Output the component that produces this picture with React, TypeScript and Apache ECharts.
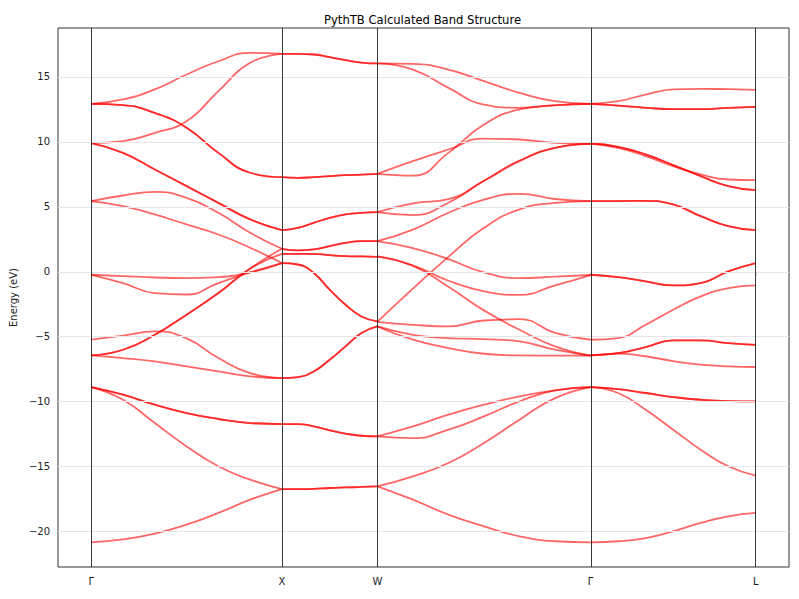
import React, { useEffect, useRef } from 'react';
import * as echarts from 'echarts';

// k-path positions of the high-symmetry points (FCC: Γ–X–W–Γ–L)
const kNodes = [0, 1, 1.5, 2.618, 3.484];
const kLabels = ['Γ', 'X', 'W', 'Γ', 'L'];
const yTicks = [-20, -15, -10, -5, 0, 5, 10, 15];

// Band energies (eV), 7 evenly spaced samples along each path segment.
const gammaX = [
  [12.92, 13.26, 14.03, 15.18, 16.2, 16.85, 16.77],
  [12.92, 12.82, 12.23, 11.08, 9.15, 7.62, 7.28],
  [12.92, 12.82, 12.23, 11.08, 9.15, 7.62, 7.28],
  [9.9, 10.05, 10.69, 11.59, 13.9, 16.08, 16.77],
  [9.9, 9.15, 7.87, 6.59, 5.3, 4.03, 3.2],
  [9.9, 9.15, 7.87, 6.59, 5.3, 4.03, 3.2],
  [5.44, 5.87, 6.15, 5.69, 4.54, 3.0, 1.77],
  [5.44, 5.05, 4.41, 3.64, 2.87, 1.85, 0.67],
  [-0.23, -0.33, -0.44, -0.49, -0.41, -0.05, 0.67],
  [-0.23, -0.87, -1.64, -1.75, -0.87, -0.05, 0.67],
  [-6.44, -6.0, -4.85, -3.3, -1.64, 0.25, 1.38],
  [-6.44, -6.0, -4.85, -3.3, -1.64, 0.25, 1.77],
  [-5.23, -4.92, -4.59, -5.13, -6.64, -7.8, -8.18],
  [-6.44, -6.64, -6.9, -7.28, -7.67, -8.05, -8.18],
  [-8.87, -9.46, -10.23, -10.87, -11.33, -11.64, -11.72],
  [-8.87, -9.46, -10.23, -10.87, -11.33, -11.64, -11.72],
  [-8.87, -9.85, -11.64, -13.44, -14.97, -16.0, -16.72],
  [-20.82, -20.6, -20.15, -19.46, -18.56, -17.54, -16.72],
];

const xW = [
  [16.77, 16.77, 16.72, 16.51, 16.28, 16.1, 16.03],
  [16.77, 16.77, 16.72, 16.51, 16.28, 16.1, 16.03],
  [7.28, 7.23, 7.28, 7.36, 7.43, 7.48, 7.54],
  [7.28, 7.23, 7.28, 7.36, 7.43, 7.48, 7.54],
  [3.2, 3.38, 3.77, 4.15, 4.41, 4.54, 4.59],
  [3.2, 3.38, 3.77, 4.15, 4.41, 4.54, 4.59],
  [1.77, 1.64, 1.72, 1.97, 2.23, 2.36, 2.36],
  [1.77, 1.64, 1.72, 1.97, 2.23, 2.36, 2.36],
  [1.38, 1.38, 1.38, 1.28, 1.21, 1.18, 1.15],
  [1.38, 1.38, 1.38, 1.28, 1.21, 1.18, 1.15],
  [0.67, 0.56, -0.1, -1.38, -2.54, -3.44, -3.82],
  [0.67, 0.56, -0.1, -1.38, -2.54, -3.44, -3.82],
  [-8.18, -8.1, -7.67, -6.77, -5.74, -4.72, -4.21],
  [-8.18, -8.1, -7.67, -6.77, -5.74, -4.72, -4.21],
  [-11.72, -11.72, -11.9, -12.2, -12.46, -12.62, -12.67],
  [-11.72, -11.72, -11.9, -12.2, -12.46, -12.62, -12.67],
  [-16.72, -16.72, -16.7, -16.64, -16.6, -16.56, -16.51],
  [-16.72, -16.72, -16.7, -16.64, -16.6, -16.56, -16.51],
];

const wGamma = [
  [16.03, 16.0, 15.56, 14.67, 13.77, 13.13, 12.92],
  [16.03, 15.56, 14.15, 12.87, 12.62, 12.82, 12.92],
  [7.54, 7.4, 9.15, 11.33, 12.49, 12.8, 12.92],
  [7.54, 8.51, 9.41, 10.25, 10.18, 9.92, 9.85],
  [4.59, 5.26, 5.59, 7.0, 8.51, 9.54, 9.85],
  [4.59, 4.36, 5.31, 7.0, 8.56, 9.54, 9.85],
  [2.36, 3.25, 4.54, 5.56, 6.0, 5.6, 5.44],
  [2.36, 1.82, 0.97, -0.05, -0.49, -0.38, -0.25],
  [1.18, 0.5, -0.69, -1.5, -1.78, -1.05, -0.25],
  [1.18, 0.45, -1.15, -2.97, -4.46, -5.74, -6.45],
  [-3.85, -1.3, 1.15, 3.38, 4.8, 5.3, 5.44],
  [-3.85, -4.08, -4.2, -3.75, -3.65, -4.7, -5.23],
  [-4.21, -4.85, -5.1, -5.18, -5.36, -6.0, -6.45],
  [-4.21, -5.23, -5.87, -6.31, -6.44, -6.46, -6.45],
  [-12.67, -11.9, -11.0, -10.23, -9.59, -9.13, -8.87],
  [-12.67, -12.8, -12.15, -11.13, -9.97, -9.13, -8.87],
  [-16.51, -15.74, -14.72, -13.18, -11.38, -9.72, -8.87],
  [-16.51, -17.54, -18.69, -19.59, -20.36, -20.74, -20.82],
];

const gammaL = [
  [12.92, 13.13, 13.64, 14.03, 14.08, 14.05, 14.0],
  [12.92, 12.79, 12.62, 12.51, 12.51, 12.62, 12.69],
  [12.92, 12.79, 12.62, 12.51, 12.51, 12.62, 12.69],
  [9.87, 9.54, 8.9, 8.13, 7.49, 7.1, 7.05],
  [9.87, 9.62, 9.03, 8.21, 7.36, 6.59, 6.28],
  [9.87, 9.62, 9.03, 8.21, 7.36, 6.59, 6.28],
  [5.44, 5.44, 5.46, 5.18, 4.28, 3.51, 3.2],
  [5.44, 5.44, 5.46, 5.18, 4.28, 3.51, 3.2],
  [-0.23, -0.41, -0.74, -1.05, -0.87, 0.03, 0.67],
  [-0.23, -0.41, -0.74, -1.05, -0.87, 0.03, 0.67],
  [-5.23, -5.1, -4.08, -2.92, -1.9, -1.26, -1.05],
  [-6.44, -6.26, -5.8, -5.28, -5.28, -5.49, -5.62],
  [-6.44, -6.26, -5.8, -5.28, -5.28, -5.49, -5.62],
  [-6.44, -6.3, -6.5, -6.88, -7.15, -7.28, -7.33],
  [-8.87, -9.03, -9.33, -9.64, -9.85, -9.95, -9.97],
  [-8.87, -9.03, -9.33, -9.64, -9.85, -9.95, -9.97],
  [-8.87, -9.33, -10.62, -12.15, -13.69, -14.97, -15.69],
  [-20.82, -20.74, -20.49, -19.97, -19.33, -18.82, -18.56],
];

const segments = [
  { from: 0, to: 1, bands: gammaX },
  { from: 1, to: 2, bands: xW },
  { from: 2, to: 3, bands: wGamma },
  { from: 3, to: 4, bands: gammaL },
];

const FONT = '"DejaVu Sans", Verdana, sans-serif';

export default function App() {
  const ref = useRef<HTMLDivElement>(null);

  useEffect(() => {
    if (!ref.current) return;
    const chart = echarts.init(ref.current, null, { renderer: 'svg' });

    const series: any[] = [];
    segments.forEach((seg) => {
      const k0 = kNodes[seg.from];
      const k1 = kNodes[seg.to];
      seg.bands.forEach((band) => {
        series.push({
          type: 'line',
          data: band.map((e, i) => [k0 + ((k1 - k0) * i) / (band.length - 1), e]),
          smooth: 0.5,
          showSymbol: false,
          symbol: 'none',
          silent: true,
          z: 3,
          lineStyle: { color: 'rgba(255,0,0,0.6)', width: 1.8 },
        });
      });
    });

    series.push({
      type: 'line',
      data: [[0, 0]],
      showSymbol: false,
      symbol: 'none',
      silent: true,
      z: 1,
      lineStyle: { opacity: 0 },
      markLine: {
        silent: true,
        symbol: ['none', 'none'],
        label: { show: false },
        lineStyle: { color: '#e6e6e6', width: 1, type: 'solid' },
        data: yTicks.map((y) => ({ yAxis: y })),
      },
    });

    series.push({
      type: 'line',
      data: [[0, 0]],
      showSymbol: false,
      symbol: 'none',
      silent: true,
      z: 2,
      lineStyle: { opacity: 0 },
      markLine: {
        silent: true,
        symbol: ['none', 'none'],
        label: { show: false },
        lineStyle: { color: '#222222', width: 0.9, type: 'solid' },
        data: kNodes.map((k) => ({ xAxis: k })),
      },
    });

    const labelFor = (v: number) => {
      const i = kNodes.findIndex((k) => Math.abs(k - v) < 1e-6);
      return i >= 0 ? kLabels[i] : '';
    };

    const span = kNodes[kNodes.length - 1] - kNodes[0];

    chart.setOption({
      animation: false,
      backgroundColor: '#ffffff',
      title: {
        text: 'PythTB Calculated Band Structure',
        left: 319,
        top: 9,
        textStyle: { fontSize: 11.6, fontWeight: 'normal', color: '#000', fontFamily: FONT },
      },
      grid: {
        left: 56,
        right: 10,
        top: 28,
        bottom: 32,
        show: true,
        borderColor: '#333333',
        borderWidth: 1,
        backgroundColor: 'transparent',
      },
      xAxis: {
        type: 'value',
        min: kNodes[0] - 0.05 * span,
        max: kNodes[kNodes.length - 1] + 0.05 * span,
        splitLine: { show: false },
        axisLine: { show: false },
        axisTick: { show: true, customValues: kNodes, length: 4, lineStyle: { color: '#c8c8c8' } },
        axisLabel: {
          customValues: kNodes,
          formatter: (v: number) => labelFor(v),
          fontSize: 10,
          color: '#222',
          margin: 9,
          fontFamily: FONT,
        },
      },
      yAxis: {
        type: 'value',
        min: -22.72,
        max: 18.76,
        splitLine: { show: false },
        axisLine: { show: false },
        axisTick: { show: true, customValues: yTicks, length: 4, lineStyle: { color: '#c8c8c8' } },
        axisLabel: {
          customValues: yTicks,
          formatter: (v: number) => String(v).replace('-', '\u2212'),
          fontSize: 10,
          color: '#222',
          margin: 8,
          fontFamily: FONT,
        },
        name: 'Energy (eV)',
        nameLocation: 'middle',
        nameGap: 37,
        nameTextStyle: { fontSize: 10, color: '#222', fontFamily: FONT },
      },
      series,
    });

    return () => chart.dispose();
  }, []);

  return (
    <div
      ref={ref}
      style={{ position: 'fixed', left: 0, top: 0, width: 799, height: 599, background: '#fff' }}
    />
  );
}
